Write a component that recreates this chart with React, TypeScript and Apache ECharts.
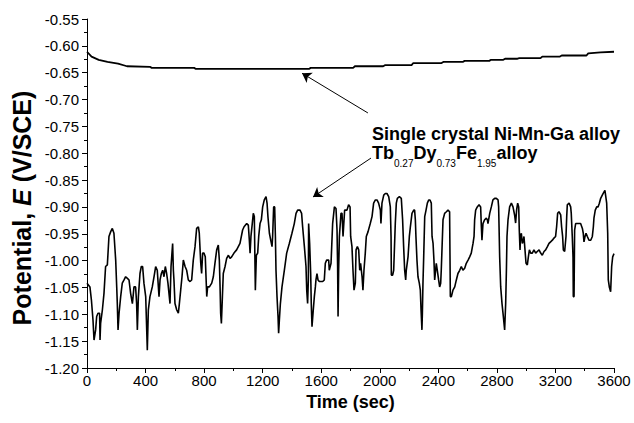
import React, { useEffect, useRef } from "react";
import * as echarts from "echarts";

// ---- axis ranges / ticks ----
const timeRange = [0, 3600];
const timeStep = 400;
const potentialRange = [-1.2, -0.55];
const potentialStep = 0.05;

// ---- series: [time (s), potential (V/SCE)] ----
const niMnGaCurve: [number, number][] = [
  [0, -0.611], [31, -0.62], [80, -0.626], [140, -0.63], [212, -0.633], [273, -0.638],
  [430, -0.639], [442, -0.641], [732, -0.641], [744, -0.643], [1516, -0.643], [1528, -0.641],
  [1818, -0.641], [1830, -0.638], [2023, -0.638], [2035, -0.636], [2217, -0.636], [2229, -0.632],
  [2422, -0.632], [2434, -0.63], [2567, -0.63], [2579, -0.628], [2748, -0.628], [2760, -0.626],
  [2844, -0.626], [2856, -0.624], [2941, -0.624], [2953, -0.623], [3098, -0.623], [3110, -0.62],
  [3231, -0.62], [3243, -0.618], [3412, -0.618], [3424, -0.614], [3508, -0.612], [3600, -0.611],
];

const tbDyFeCurve: [number, number][] = [
  [0, -1.042], [20, -1.049], [30, -1.073], [41, -1.111], [48, -1.148], [59, -1.129], [66, -1.104],
  [75, -1.098], [86, -1.098], [89, -1.148], [93, -1.117], [105, -1.092], [116, -1.061], [127, -1.011],
  [139, -1.008], [150, -0.955], [162, -0.946], [173, -0.94], [184, -0.949], [196, -0.999], [203, -1.049],
  [207, -1.08], [212, -1.129], [219, -1.098], [230, -1.067], [241, -1.042], [253, -1.036], [264, -1.03],
  [276, -1.033], [287, -1.036], [298, -1.061], [310, -1.08], [321, -1.049], [332, -1.049], [339, -1.08],
  [344, -1.129], [351, -1.067], [362, -1.024], [371, -1.011], [380, -1.011], [389, -1.042], [401, -1.067],
  [412, -1.167], [419, -1.092], [430, -1.067], [446, -1.049], [458, -1.03], [469, -1.011], [480, -1.018],
  [492, -1.067], [499, -1.036], [508, -1.024], [517, -1.018], [526, -1.03], [535, -1.011], [544, -1.024],
  [553, -1.042], [567, -1.08], [574, -1.011], [585, -0.968], [590, -1.018], [594, -1.036], [601, -1.08],
  [613, -1.092], [624, -1.098], [631, -1.08], [640, -1.055], [649, -1.03], [658, -0.999], [670, -1.011],
  [681, -1.018], [692, -1.036], [704, -1.039], [715, -1.036], [726, -0.999], [738, -0.974], [749, -0.94],
  [761, -0.937], [767, -0.949], [777, -1.005], [783, -1.024], [790, -0.986], [799, -0.986], [808, -0.993],
  [813, -1.03], [818, -1.067], [824, -1.049], [836, -1.049], [852, -1.042], [863, -1.03], [874, -1.005],
  [886, -0.98], [897, -0.971], [904, -0.999], [909, -1.049], [913, -1.098], [918, -1.117], [925, -1.067],
  [931, -1.024], [943, -1.011], [954, -0.996], [966, -0.99], [977, -0.996], [988, -0.993], [1004, -0.986],
  [1022, -0.98], [1045, -0.968], [1063, -0.943], [1073, -0.937], [1091, -0.931], [1102, -0.934],
  [1109, -0.962], [1114, -0.986], [1120, -0.955], [1129, -0.931], [1136, -0.912], [1143, -0.918],
  [1150, -1.055], [1157, -0.99], [1166, -0.986], [1173, -0.955], [1182, -0.931], [1191, -0.924],
  [1200, -0.9], [1211, -0.887], [1223, -0.881], [1230, -0.893], [1236, -0.918], [1246, -0.949],
  [1255, -0.962], [1264, -0.974], [1268, -0.955], [1275, -0.9], [1282, -0.9], [1287, -0.955],
  [1291, -1.018], [1298, -1.067], [1305, -1.104], [1309, -1.135], [1314, -1.111], [1321, -1.08],
  [1332, -1.049], [1348, -1.018], [1364, -0.986], [1382, -0.968], [1400, -0.949], [1416, -0.931],
  [1428, -0.912], [1439, -0.906], [1455, -0.906], [1466, -0.912], [1473, -0.937], [1485, -0.974],
  [1496, -1.011], [1501, -1.055], [1507, -1.08], [1512, -1.036], [1514, -0.931], [1521, -0.968],
  [1528, -1.024], [1532, -1.08], [1537, -1.123], [1544, -1.098], [1553, -1.067], [1560, -1.049],
  [1564, -1.036], [1571, -1.024], [1578, -1.036], [1587, -1.039], [1610, -1.039], [1621, -1.036],
  [1628, -1.005], [1637, -0.999], [1651, -0.999], [1655, -1.018], [1667, -1.005], [1678, -0.931],
  [1690, -0.9], [1701, -0.903], [1708, -0.943], [1712, -1.011], [1715, -1.104], [1719, -1.018],
  [1724, -0.955], [1735, -0.912], [1742, -0.912], [1749, -0.955], [1753, -0.937], [1760, -0.906],
  [1776, -0.906], [1787, -0.896], [1797, -0.9], [1801, -0.955], [1810, -0.974], [1817, -1.018],
  [1824, -1.055], [1833, -1.042], [1838, -0.98], [1847, -0.974], [1856, -0.98], [1863, -1.018],
  [1869, -1.005], [1879, -1.03], [1885, -1.055], [1892, -1.018], [1901, -0.986], [1908, -0.955],
  [1920, -0.946], [1935, -0.931], [1947, -0.918], [1958, -0.893], [1970, -0.887], [1981, -0.887],
  [1992, -0.893], [2004, -0.906], [2008, -0.931], [2015, -0.893], [2027, -0.878], [2038, -0.875],
  [2049, -0.875], [2061, -0.881], [2068, -0.893], [2072, -0.9], [2077, -0.955], [2079, -1.027],
  [2088, -1.027], [2095, -1.018], [2099, -0.986], [2106, -0.931], [2113, -0.893], [2120, -0.884],
  [2134, -0.881], [2147, -0.884], [2156, -0.924], [2163, -0.974], [2170, -1.018], [2177, -1.036],
  [2181, -1.018], [2193, -0.993], [2202, -0.955], [2209, -0.937], [2220, -0.912], [2232, -0.906],
  [2238, -0.906], [2243, -0.924], [2247, -0.955], [2254, -0.999], [2261, -1.03], [2270, -1.042],
  [2277, -1.055], [2282, -1.092], [2288, -1.129], [2291, -1.098], [2295, -1.042], [2300, -0.993],
  [2307, -0.918], [2316, -0.906], [2325, -0.893], [2334, -0.887], [2343, -0.887], [2352, -0.893],
  [2357, -0.955], [2364, -0.968], [2370, -0.999], [2375, -1.036], [2386, -1.005], [2393, -1.018],
  [2402, -1.036], [2409, -1.049], [2416, -1.042], [2420, -1.018], [2432, -0.924], [2443, -0.912],
  [2455, -0.909], [2466, -0.906], [2477, -0.909], [2482, -1.067], [2489, -1.067], [2500, -1.055],
  [2512, -1.049], [2523, -1.036], [2534, -1.024], [2546, -1.018], [2557, -1.011], [2568, -1.018],
  [2580, -1.014], [2591, -1.005], [2603, -0.999], [2614, -0.993], [2625, -0.986], [2637, -0.968],
  [2644, -0.955], [2648, -0.924], [2655, -0.906], [2666, -0.9], [2678, -0.896], [2689, -0.9],
  [2694, -0.937], [2698, -0.962], [2705, -0.931], [2716, -0.924], [2728, -0.921], [2735, -0.924],
  [2739, -0.931], [2751, -0.912], [2762, -0.9], [2773, -0.887], [2785, -0.884], [2796, -0.884],
  [2808, -0.887], [2812, -0.9], [2819, -0.993], [2826, -1.049], [2835, -1.08], [2844, -1.104],
  [2853, -1.129], [2860, -1.08], [2865, -1.018], [2869, -0.955], [2876, -0.924], [2887, -0.9],
  [2899, -0.893], [2910, -0.9], [2921, -0.915], [2928, -0.93], [2935, -0.905], [2942, -0.893],
  [2949, -0.9], [2953, -0.943], [2958, -0.98], [2962, -0.955], [2967, -0.949], [2974, -0.968],
  [2981, -0.962], [2985, -0.955], [2992, -0.98], [2999, -1.005], [3008, -1.008], [3015, -0.993],
  [3022, -0.98], [3031, -0.986], [3042, -0.986], [3053, -0.98], [3065, -0.986], [3076, -0.983],
  [3088, -0.98], [3099, -0.986], [3110, -0.99], [3122, -0.983], [3133, -0.98], [3145, -0.974],
  [3156, -0.968], [3167, -0.965], [3179, -0.962], [3190, -0.958], [3201, -0.955], [3208, -0.937],
  [3215, -0.912], [3224, -0.909], [3236, -0.915], [3242, -0.937], [3249, -0.955], [3254, -0.98],
  [3263, -0.983], [3272, -0.955], [3277, -0.918], [3281, -0.896], [3293, -0.893], [3304, -0.9],
  [3308, -0.912], [3315, -0.955], [3320, -0.993], [3322, -1.067], [3327, -1.067], [3331, -0.943],
  [3338, -0.931], [3349, -0.931], [3361, -0.931], [3372, -0.931], [3384, -0.94], [3390, -0.949],
  [3395, -0.965], [3402, -0.955], [3409, -0.949], [3418, -0.955], [3429, -0.962], [3441, -0.962],
  [3452, -0.955], [3459, -0.937], [3463, -0.921], [3472, -0.906], [3482, -0.9], [3491, -0.9],
  [3500, -0.893], [3509, -0.884], [3520, -0.878], [3532, -0.872], [3538, -0.869], [3550, -0.893],
  [3557, -0.949], [3561, -1.036], [3568, -1.049], [3577, -1.058], [3584, -1.011], [3591, -0.993],
  [3600, -0.987],
];

// ---- annotation arrows (data coordinates): [tail, tip] ----
const arrowNiMnGa: [number, number][] = [[1919, -0.725], [1469, -0.651]];
const arrowTbDyFe: [number, number][] = [[1940, -0.809], [1544, -0.8815]];

const labelNiMnGa = "Single crystal Ni-Mn-Ga alloy";
const labelTbDyFe = "{m|Tb}{s|0.27}{m|Dy}{s|0.73}{m|Fe}{s|1.95}{m|alloy}";

const FONT = "'Liberation Sans', Arial, Helvetica, sans-serif";

export default function App() {
  const ref = useRef<HTMLDivElement>(null);

  useEffect(() => {
    if (!ref.current) return;
    const chart = echarts.init(ref.current, undefined, { renderer: "svg" });
    const arrowLine = (a: [number, number][]) => [
      { coord: a[0], symbol: "none" },
      { coord: a[1], symbol: "arrow" },
    ];
    chart.setOption({
      animation: false,
      backgroundColor: "#fff",
      grid: { left: 87, right: 20, top: 19, bottom: 55, containLabel: false },
      xAxis: {
        type: "value",
        min: timeRange[0],
        max: timeRange[1],
        interval: timeStep,
        axisLine: { show: true, onZero: false, lineStyle: { color: "#000", width: 1 } },
        axisTick: { show: true, length: 5, lineStyle: { color: "#000", width: 1 } },
        minorTick: { show: true, splitNumber: 2, length: 3, lineStyle: { color: "#000", width: 1 } },
        splitLine: { show: false },
        axisLabel: {
          color: "#000",
          fontSize: 15,
          fontFamily: FONT,
          margin: 5,
          formatter: (v: number) => String(Math.round(v)),
        },
        name: "Time (sec)",
        nameLocation: "middle",
        nameGap: 25,
        nameTextStyle: { color: "#000", fontSize: 18, fontWeight: "bold", fontFamily: FONT },
      },
      yAxis: {
        type: "value",
        min: potentialRange[0],
        max: potentialRange[1],
        interval: potentialStep,
        axisLine: { show: true, onZero: false, lineStyle: { color: "#000", width: 1 } },
        axisTick: { show: true, length: 5, lineStyle: { color: "#000", width: 1 } },
        minorTick: { show: true, splitNumber: 2, length: 3, lineStyle: { color: "#000", width: 1 } },
        splitLine: { show: false },
        axisLabel: {
          color: "#000",
          fontSize: 15,
          fontFamily: FONT,
          margin: 8,
          formatter: (v: number) => v.toFixed(2),
        },
      },
      graphic: [
        {
          type: "text",
          x: 22,
          y: 208,
          rotation: Math.PI / 2,
          style: {
            text: "{a|Potential, }{b|E}{a| (V/SCE)}",
            align: "center",
            verticalAlign: "middle",
            rich: {
              a: { fontSize: 25, fontWeight: "bold", fontFamily: FONT, fill: "#000" },
              b: { fontSize: 25, fontWeight: "bold", fontStyle: "italic", fontFamily: FONT, fill: "#000" },
            },
          },
        },
        {
          type: "text",
          x: 372,
          y: 134,
          style: {
            text: labelNiMnGa,
            fontSize: 18,
            fontWeight: "bold",
            fontFamily: FONT,
            fill: "#000",
            align: "left",
            verticalAlign: "middle",
          },
        },
        {
          type: "text",
          x: 372,
          y: 144,
          style: {
            text: labelTbDyFe,
            align: "left",
            verticalAlign: "top",
            rich: {
              m: {
                fontSize: 18,
                fontWeight: "bold",
                fontFamily: FONT,
                fill: "#000",
                lineHeight: 20,
                verticalAlign: "top",
              },
              s: {
                fontSize: 10,
                fontFamily: FONT,
                fill: "#000",
                lineHeight: 12,
                verticalAlign: "top",
                padding: [14, 0, 0, 0],
              },
            },
          },
        },
      ],
      series: [
        {
          name: "Single crystal Ni-Mn-Ga alloy",
          type: "line",
          data: niMnGaCurve,
          showSymbol: false,
          symbol: "none",
          lineStyle: { color: "#000", width: 1.8 },
          silent: true,
          markLine: {
            silent: true,
            symbolSize: 9,
            label: { show: false },
            lineStyle: { color: "#000", width: 1, type: "solid" },
            emphasis: { disabled: true },
            data: [arrowLine(arrowNiMnGa), arrowLine(arrowTbDyFe)],
          },
        },
        {
          name: "Tb0.27Dy0.73Fe1.95 alloy",
          type: "line",
          data: tbDyFeCurve,
          showSymbol: false,
          symbol: "none",
          lineStyle: { color: "#000", width: 1.6 },
          silent: true,
        },
      ],
    });
    return () => chart.dispose();
  }, []);

  return (
    <div
      ref={ref}
      style={{ position: "fixed", left: 0, top: 0, width: 634, height: 423, background: "#fff" }}
    />
  );
}
